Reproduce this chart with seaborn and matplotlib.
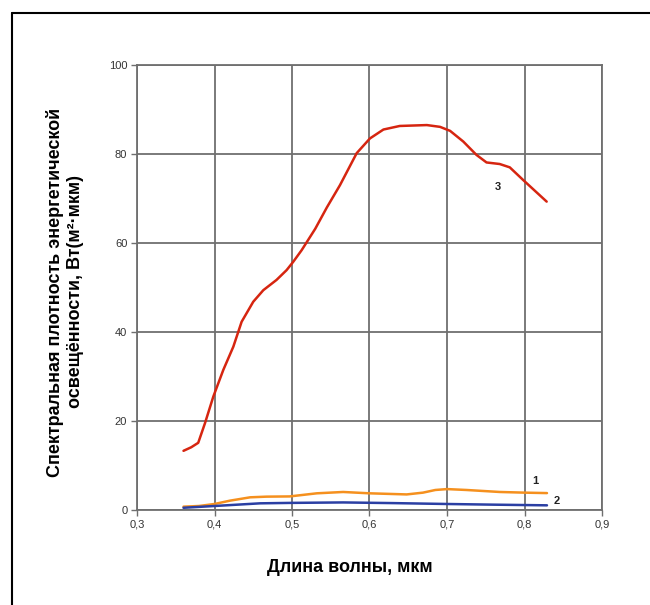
import matplotlib
matplotlib.use("Agg")
import matplotlib.pyplot as plt
from matplotlib.lines import Line2D
import seaborn as sns
import pandas as pd

# Curve 3 (red)
x3 = [0.360, 0.370, 0.379, 0.3877, 0.3985, 0.4114, 0.4243, 0.435, 0.450, 0.463, 0.480, 0.493,
      0.5017, 0.5125, 0.530, 0.545, 0.5619, 0.5835, 0.6006, 0.618, 0.639, 0.674, 0.691,
      0.704, 0.721, 0.738, 0.751, 0.768, 0.781, 0.798, 0.8286]
y3 = [13.3, 14.1, 15.1, 19.5, 25.5, 31.5, 36.7, 42.3, 46.8, 49.4, 51.7, 53.9,
      55.8, 58.4, 63.2, 68.0, 73.0, 80.2, 83.5, 85.5, 86.3, 86.5, 86.1,
      85.2, 82.8, 79.8, 78.1, 77.75, 77.0, 74.2, 69.3]
# Curve 1 (orange)
x1 = [0.360, 0.380, 0.400, 0.420, 0.446, 0.467, 0.497, 0.532, 0.566, 0.600, 0.648, 0.669,
      0.685, 0.700, 0.725, 0.768, 0.800, 0.829]
y1 = [0.75, 0.9, 1.35, 2.1, 2.85, 3.0, 3.05, 3.75, 4.05, 3.75, 3.5, 3.9,
      4.5, 4.7, 4.5, 4.05, 3.9, 3.8]
# Curve 2 (blue)
x2 = [0.360, 0.400, 0.459, 0.500, 0.566, 0.630, 0.700, 0.760, 0.829]
y2 = [0.5, 0.9, 1.5, 1.6, 1.7, 1.55, 1.35, 1.2, 1.05]

labels = ["1", "2", "3"]
xticks = [0.3, 0.4, 0.5, 0.6, 0.7, 0.8, 0.9]
xtick_labels = ["0,3", "0,4", "0,5", "0,6", "0,7", "0,8", "0,9"]
yticks = [0, 20, 40, 60, 80, 100]

sns.set_theme(style="white")
plt.rcParams['font.family'] = ['Liberation Sans', 'DejaVu Sans']

fig = plt.figure(figsize=(6.5, 6.05), dpi=100)
ax = fig.add_axes([137/650, 1 - 510/605, 465/650, 445/605])

df3 = pd.DataFrame({"x": x3, "y": y3})
df1 = pd.DataFrame({"x": x1, "y": y1})
df2 = pd.DataFrame({"x": x2, "y": y2})

kw = dict(linewidth=1.8, sort=True)
sns.lineplot(data=df3, x="x", y="y", ax=ax, color="#d62510", **kw)
sns.lineplot(data=df1, x="x", y="y", ax=ax, color="#f5901e", **kw)
sns.lineplot(data=df2, x="x", y="y", ax=ax, color="#2b3fa3", **kw)
for ln in ax.lines:
    ln.set_solid_joinstyle("round")
    ln.set_solid_capstyle("round")

ax.text(0.766, 72.6, labels[2], fontsize=8, fontweight="bold", ha="center", va="center", color="#222222")
ax.text(0.8135, 6.5, labels[0], fontsize=8, fontweight="bold", ha="center", va="center", color="#222222")
ax.text(0.8415, 2.1, labels[1], fontsize=8, fontweight="bold", ha="center", va="center", color="#222222")

ax.set_xlim(0.3, 0.9)
ax.set_ylim(0, 100)
ax.set_xticks(xticks)
ax.set_xticklabels(xtick_labels)
ax.set_yticks(yticks)
ax.grid(True, color="#6f6f6f", linewidth=1.3)
for s in ax.spines.values():
    s.set_color("#6f6f6f")
    s.set_linewidth(1.3)
ax.tick_params(axis="both", which="both", direction="out", length=4, width=1,
               color="#6f6f6f", labelsize=8, labelcolor="#333333", pad=3)
ax.tick_params(axis="both", bottom=True, left=True)

ax.set_xlabel("Длина волны, мкм", fontsize=13, fontweight="bold", color="black")
ax.xaxis.set_label_coords((350 - 137) / 465, -(567 - 510) / 445, transform=ax.transAxes)
ax.xaxis.label.set_va("center")
ax.set_ylabel("Спектральная плотность энергетической\nосвещённости, Вт(м²·мкм)", fontsize=13,
              fontweight="bold", color="black", linespacing=1.2)
ax.yaxis.set_label_coords(-(137 - 65) / 465, (510 - 292) / 445, transform=ax.transAxes)
ax.yaxis.label.set_va("center")

fig.add_artist(Line2D([12/650, 12/650], [0, 1 - 13/605], transform=fig.transFigure, color="black", linewidth=1.5))
fig.add_artist(Line2D([12/650, 1], [1 - 13/605, 1 - 13/605], transform=fig.transFigure, color="black", linewidth=1.5))

fig.savefig("out.png", dpi=100)
